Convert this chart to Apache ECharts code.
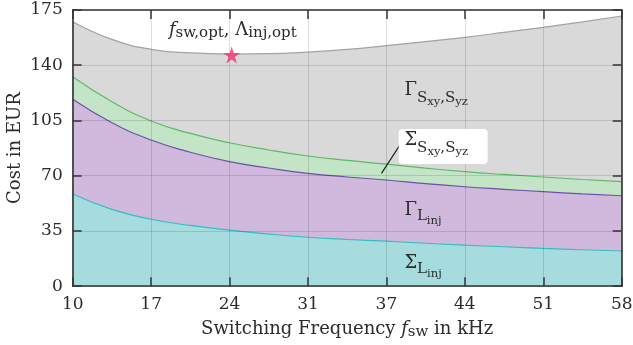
<!DOCTYPE html>
<html>
<head>
<meta charset="utf-8">
<script src="https://cdn.jsdelivr.net/npm/echarts@6/dist/echarts.min.js"></script>
<style>
html, body {margin: 0; padding: 0; background: #fff;}
#main {width: 633px; height: 345px;}
</style>
</head>
<body>
<div id="main"></div>
<script>
// switching frequency in kHz (read at ticks and half ticks)
var freq = [10, 13.43, 16.86, 20.29, 23.71, 27.14, 30.57, 34.0, 37.43, 40.86, 44.29, 47.71, 51.14, 54.57, 58];
// cost curves in EUR, upper edge of each band
var costTotal = [167.6, 156.4, 150.1, 147.8, 147.1, 147.3, 148.3, 150.0, 152.4, 155.0, 157.7, 160.8, 164.0, 167.5, 171.2];
var costSigmaS = [132.7, 116.9, 104.7, 96.8, 90.9, 86.3, 82.5, 79.7, 77.3, 74.8, 72.6, 70.8, 69.2, 67.6, 66.2];
var costGammaL = [118.4, 103.6, 92.6, 84.9, 78.9, 74.9, 71.5, 69.2, 67.3, 65.0, 63.0, 61.4, 59.9, 58.5, 57.3];
var costSigmaL = [58.4, 48.7, 42.4, 38.5, 35.5, 33.0, 31.0, 29.6, 28.5, 27.2, 26.0, 25.0, 24.0, 23.1, 22.3];
// optimum point
var optimum = [[23.9, 146.5]];
var xTickLabels = ['10', '17', '24', '31', '37', '44', '51', '58'];
var yTicks = [0, 35, 70, 105, 140, 175];

var X_MIN = 10, X_MAX = 58;
var Y_MIN = yTicks[0], Y_MAX = yTicks[yTicks.length - 1];
var xStep = (X_MAX - X_MIN) / (xTickLabels.length - 1);
var xTickValues = xTickLabels.map(function (l, i) { return X_MIN + i * xStep; });

var W = 633, H = 345;
var GRID = {left: 72.7, right: 11.3, top: 10, bottom: 58.8};

var FONT = 'DejaVu Serif';
var TXT = '#2b2b2b';
// every piece is top aligned; its height sets where its middle sits (subscripts lower)
function rs(size, h, italic) {
    var s = {fontFamily: FONT, fontSize: size, color: TXT, height: h, lineHeight: h, verticalAlign: 'top'};
    if (italic) s.fontStyle = 'italic';
    return s;
}
var rich = {
    m: rs(18, 20),
    it: rs(18, 20, true),
    sa: rs(15, 25),
    sx: rs(15, 26),
    sb: rs(15, 36),
    ssb: rs(11.5, 43),
    sc: rs(15, 32),
    ssc: rs(11.5, 41)
};

function pairs(ys) {
    return freq.map(function (x, i) { return [x, ys[i]]; });
}

function band(name, ys, line, fill) {
    return {
        name: name,
        type: 'line',
        data: pairs(ys),
        smooth: true,
        showSymbol: false,
        lineStyle: {color: line, width: 1.2},
        areaStyle: {color: fill, opacity: 1},
        z: 2
    };
}

function note(coord, text, align) {
    return {
        coord: coord, symbol: 'circle', symbolSize: 0,
        label: {show: true, position: [0, -10], align: align, formatter: text, rich: rich}
    };
}

function axisLine() {
    return {show: true, onZero: false, lineStyle: {color: '#333', width: 1.6}};
}
function gridLine() {
    return {show: true, lineStyle: {color: 'rgba(0,0,0,0.13)', width: 1}};
}

// inward ticks on all four sides (9px long), given in axis units
var TICK_PX = 9;
var tickDx = TICK_PX * (X_MAX - X_MIN) / (W - GRID.left - GRID.right);
var tickDy = TICK_PX * (Y_MAX - Y_MIN) / (H - GRID.top - GRID.bottom);
var tickSegs = [];
xTickValues.forEach(function (v) {
    tickSegs.push([{coord: [v, Y_MIN]}, {coord: [v, Y_MIN + tickDy]}]);
    tickSegs.push([{coord: [v, Y_MAX]}, {coord: [v, Y_MAX - tickDy]}]);
});
yTicks.forEach(function (v) {
    tickSegs.push([{coord: [X_MIN, v]}, {coord: [X_MIN + tickDx, v]}]);
    tickSegs.push([{coord: [X_MAX, v]}, {coord: [X_MAX - tickDx, v]}]);
});

var chart = echarts.init(document.getElementById('main'));
var option = {
    animation: false,
    grid: Object.assign({outerBoundsMode: 'none', containLabel: false}, GRID),
    xAxis: [{
        type: 'value', min: X_MIN, max: X_MAX, z: 3,
        name: '{m|Switching Frequency }{it|f}{sx|sw}{m| in kHz}',
        nameLocation: 'middle', nameGap: 33,
        nameTextStyle: {rich: rich},
        axisLine: axisLine(),
        axisTick: {show: false, customValues: xTickValues},
        axisLabel: {
            customValues: xTickValues, margin: 10,
            fontFamily: FONT, fontSize: 17, color: TXT,
            formatter: function (v) { return xTickLabels[Math.round((v - X_MIN) / xStep)]; }
        },
        splitLine: gridLine()
    }, {
        type: 'value', min: X_MIN, max: X_MAX, position: 'top', z: 3,
        axisLine: axisLine(),
        axisTick: {show: false},
        axisLabel: {show: false},
        splitLine: {show: false}
    }],
    yAxis: [{
        type: 'value', min: Y_MIN, max: Y_MAX, interval: 35, z: 3,
        name: 'Cost in EUR', nameLocation: 'middle', nameGap: 48, nameRotate: 90,
        nameMoveOverlap: false,
        nameTextStyle: {fontFamily: FONT, fontSize: 18, color: TXT},
        axisLine: axisLine(),
        axisTick: {show: false},
        axisLabel: {margin: 10, fontFamily: FONT, fontSize: 17, color: TXT},
        splitLine: gridLine()
    }, {
        type: 'value', min: Y_MIN, max: Y_MAX, interval: 35, position: 'right', z: 3,
        axisLine: axisLine(),
        axisTick: {show: false},
        axisLabel: {show: false},
        splitLine: {show: false}
    }],
    series: [
        band('Gamma S', costTotal, '#a3a3a3', '#d9d9d9'),
        band('Sigma S', costSigmaS, '#5db865', '#c4e4c7'),
        band('Gamma L', costGammaL, '#6b52a8', '#d0b9dc'),
        Object.assign(band('Sigma L', costSigmaL, '#2fc0c2', '#a7dcde'), {
            markLine: {
                silent: true, symbol: 'none', z: 5,
                lineStyle: {color: '#222', width: 1.2, type: 'solid'},
                label: {show: false},
                data: [[{coord: [37.0, 71.5]}, {coord: [38.7, 90.5]}]]
            },
            markPoint: {
                z: 6,
                data: [
                    {
                        coord: [42.39, 88.5], symbolSize: [89, 35],
                        symbol: 'path://M4,0 H85 A4,4 0 0 1 89,4 V31 A4,4 0 0 1 85,35 H4 A4,4 0 0 1 0,31 V4 A4,4 0 0 1 4,0 Z',
                        itemStyle: {color: '#fff'}, label: {show: false}
                    },
                    note([24.0, 162.0], '{it|f}{sa|sw,opt}{m|, Λ}{sa|inj,opt}', 'center'),
                    note([39.0, 124.3], '{m|Γ}{sb|S}{ssb|xy}{sb|,S}{ssb|yz}', 'left'),
                    note([39.0, 92.6], '{m|Σ}{sb|S}{ssb|xy}{sb|,S}{ssb|yz}', 'left'),
                    note([39.0, 47.9], '{m|Γ}{sc|L}{ssc|inj}', 'left'),
                    note([39.0, 14.4], '{m|Σ}{sc|L}{ssc|inj}', 'left')
                ]
            }
        }),
        {
            name: 'optimum',
            type: 'scatter',
            data: optimum,
            symbol: 'path://M12,0 L14.8,8.6 L24,8.6 L16.6,14 L19.4,22.8 L12,17.4 L4.6,22.8 L7.4,14 L0,8.6 L9.2,8.6 Z',
            symbolSize: 17,
            itemStyle: {color: '#f0336f'},
            z: 10,
            markLine: {
                silent: true, symbol: 'none', z: 12, animation: false,
                lineStyle: {color: '#333', width: 1.5, type: 'solid'},
                label: {show: false},
                emphasis: {disabled: true},
                data: tickSegs
            }
        }
    ]
};
chart.setOption(option);
</script>
</body>
</html>
